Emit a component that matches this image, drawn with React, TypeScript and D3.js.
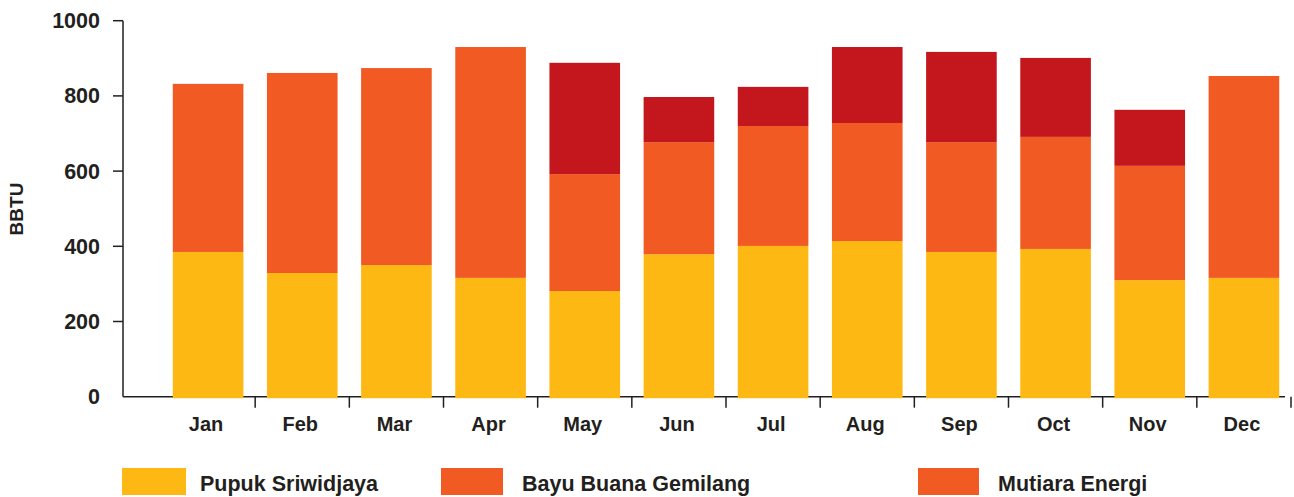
import React from "react";
import * as d3 from "d3";

const months = ["Jan", "Feb", "Mar", "Apr", "May", "Jun", "Jul", "Aug", "Sep", "Oct", "Nov", "Dec"];
const seriesNames = ["Pupuk Sriwidjaya", "Bayu Buana Gemilang", "Mutiara Energi"];
const pupuk = [385, 329, 350, 316, 281, 379, 401, 414, 385, 393, 310, 316];
const bayu = [447, 532, 524, 614, 311, 298, 319, 314, 292, 298, 304, 537];
const mutiara = [0, 0, 0, 0, 296, 120, 104, 202, 240, 210, 149, 0];
const yTicks = [0, 200, 400, 600, 800, 1000];
const barColors = ["#FDB813", "#F15A22", "#C3161D"];
const legendColors = ["#FDB813", "#F15A22", "#F15A22"];

const W = 1294;
const H = 497;
const FONT = "'Liberation Sans', Arial, sans-serif";
const INK = "#231f20";

export default function App() {
  const rows = months.map((m, i) => ({ month: m, s0: pupuk[i], s1: bayu[i], s2: mutiara[i] }));
  const stack = d3.stack<any>().keys(["s0", "s1", "s2"])(rows);

  const x = d3.scaleBand<string>().domain(months).range([161, 1291]).paddingInner(0.25).paddingOuter(0.125);
  const y = d3.scaleLinear().domain([0, 1000]).range([396.7, 20.7]);

  const axisX = 123;
  const y0 = y(0);
  const step = x.step();
  const bw = x.bandwidth();
  const boundaries = months.map((m) => (x(m) as number) + bw + (step * 0.25) / 2);

  const legendItems = [
    { sx: 122, sw: 64, tx: 200 },
    { sx: 441, sw: 62, tx: 522 },
    { sx: 918, sw: 61, tx: 998 },
  ];

  return (
    <svg width={W} height={H} style={{ position: "absolute", left: 0, top: 0, background: "#fff" }}>
      {/* axes */}
      <line x1={axisX} x2={axisX} y1={y(1000)} y2={y0} stroke={INK} strokeWidth={1.5} />
      <line x1={axisX} x2={1285} y1={y0} y2={y0} stroke={INK} strokeWidth={1.5} />
      {yTicks.map((t) => (
        <g key={t}>
          {t > 0 && <line x1={113} x2={axisX} y1={y(t)} y2={y(t)} stroke={INK} strokeWidth={1.5} />}
          <text x={100} y={y(t) + 7.5} textAnchor="end" fontFamily={FONT} fontWeight="bold" fontSize={21.5} fill={INK}>
            {t}
          </text>
        </g>
      ))}
      {boundaries.map((b, i) => (
        <line key={i} x1={b} x2={b} y1={y0} y2={y0 + 11} stroke={INK} strokeWidth={1.5} />
      ))}
      <text
        transform={`translate(23, 209) rotate(-90)`}
        textAnchor="middle"
        fontFamily={FONT}
        fontWeight="bold"
        fontSize={19}
        fill={INK}
      >
        BBTU
      </text>

      {/* bars */}
      {stack.map((layer, li) => (
        <g key={li} fill={barColors[li]}>
          {layer.map((d, i) =>
            d[1] - d[0] > 0 ? (
              <rect
                key={i}
                x={x(months[i]) as number}
                y={y(d[1])}
                width={bw}
                height={y(d[0]) - y(d[1]) + (li === 0 ? 1.5 : 0)}
              />
            ) : null
          )}
        </g>
      ))}

      {/* month labels */}
      {months.map((m) => (
        <text
          key={m}
          x={(x(m) as number) + bw / 2 - 2}
          y={431}
          textAnchor="middle"
          fontFamily={FONT}
          fontWeight="bold"
          fontSize={20}
          fill={INK}
        >
          {m}
        </text>
      ))}

      {/* legend */}
      {seriesNames.map((n, i) => (
        <g key={n}>
          <rect x={legendItems[i].sx} y={468} width={legendItems[i].sw} height={27} fill={legendColors[i]} />
          <text x={legendItems[i].tx} y={491} fontFamily={FONT} fontWeight="bold" fontSize={21.5} fill={INK}>
            {n}
          </text>
        </g>
      ))}
    </svg>
  );
}
